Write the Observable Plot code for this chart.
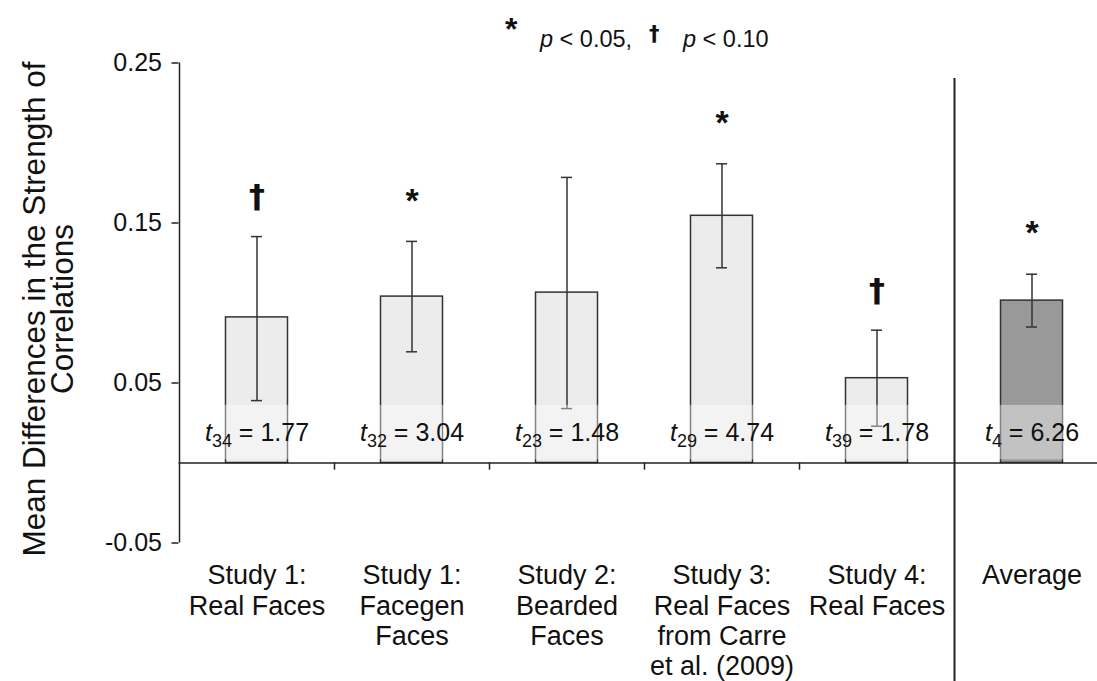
<!DOCTYPE html>
<html><head><meta charset="utf-8">
<script src="https://cdn.jsdelivr.net/npm/d3@7"></script>
<script src="https://cdn.jsdelivr.net/npm/@observablehq/plot@0.6"></script>
<style>
body{margin:0;background:#fff;font-family:"Liberation Sans",Arial,sans-serif;color:#111}
#legend{position:relative;height:55px;width:1097px}
#legend span{position:absolute;white-space:nowrap;line-height:1}
</style></head><body>
<div id="legend">
 <span style="left:505px;top:13px;font-size:32px;font-weight:bold">*</span>
 <span style="left:540px;top:28px;font-size:23.5px"><i>p</i> &lt; 0.05,</span>
 <span style="left:649px;top:24px;font-size:21px;font-weight:bold;font-family:'DejaVu Sans'">†</span>
 <span style="left:683px;top:28px;font-size:23.5px"><i>p</i> &lt; 0.10</span>
</div>
<div id="chart"></div>
<script>
const categories = [
  "Study 1:\nReal Faces",
  "Study 1:\nFacegen\nFaces",
  "Study 2:\nBearded\nFaces",
  "Study 3:\nReal Faces\nfrom Carre\net al. (2009)",
  "Study 4:\nReal Faces",
  "Average"
];
const means  = [0.091, 0.104, 0.1065, 0.1545, 0.053, 0.1015];
const ciLow  = [0.039, 0.0695, 0.034, 0.122, 0.023, 0.085];
const ciHigh = [0.1415, 0.1385, 0.1785, 0.187, 0.083, 0.118];
const dfs     = ["34", "32", "23", "29", "39", "4"];
const tValues = ["1.77", "3.04", "1.48", "4.74", "1.78", "6.26"];
const significance = ["†", "*", "", "*", "†", "*"];
const yTicks = [-0.05, 0.05, 0.15, 0.25];
const yTitle = "Mean Differences in the Strength of\nCorrelations";

const rows = categories.map((c, i) => ({
  category: c, mean: means[i], lo: ciLow[i], hi: ciHigh[i],
  t: `t${dfs[i]} = ${tValues[i]}`, sig: significance[i]
}));

const left = 178.5, band = 155;
const half = band / 2;
const barInset = (band - 62) / 2;
const capInset = (band - 11) / 2;
const ink = "#222";

const chart = Plot.plot({
  width: 1097, height: 626,
  marginLeft: left, marginRight: 0, marginTop: 7.5, marginBottom: 138.5,
  style: {fontFamily: "'Liberation Sans', Arial, sans-serif", color: "#111", background: "#fff", overflow: "visible"},
  color: {type: "identity"},
  x: {domain: categories, range: [left, left + band * categories.length], padding: 0, label: null, axis: null},
  y: {domain: [-0.05, 0.25], label: null, axis: null},
  marks: [
    Plot.barY(rows, {x: "category", y: "mean",
      fill: d => d.category === "Average" ? "#999999" : "#ececec",
      stroke: "#333", strokeWidth: 1.5, insetLeft: barInset, insetRight: barInset}),
    Plot.ruleX(rows, {x: "category", y1: "lo", y2: "hi", stroke: "#333", strokeWidth: 1.5}),
    Plot.tickY(rows, {x: "category", y: "lo", stroke: "#333", strokeWidth: 1.5, insetLeft: capInset, insetRight: capInset}),
    Plot.tickY(rows, {x: "category", y: "hi", stroke: "#333", strokeWidth: 1.5, insetLeft: capInset, insetRight: capInset}),
    Plot.barY(rows, {x: "category", y1: () => 0.002, y2: () => 0.036, fill: "white", fillOpacity: 0.4,
      insetLeft: barInset - 1.5, insetRight: barInset - 1.5}),
    Plot.ruleY([0], {stroke: ink, strokeWidth: 1.5}),
    // y axis line
    Plot.ruleX([categories[0]], {x: d => d, dx: -half, y1: () => -0.05, y2: () => 0.25, stroke: ink, strokeWidth: 1.5}),
    // band separators on zero line
    Plot.ruleX(categories.slice(1, 5), {x: d => d, dx: -half, y1: () => 0, y2: () => -0.0045, stroke: ink, strokeWidth: 1.5}),
    // separator before Average
    Plot.ruleX(["Average"], {x: d => d, dx: -half, y1: () => 0.2403, y2: () => -0.137, stroke: ink, strokeWidth: 2}),
    Plot.axisY(yTicks, {tickSize: 7, tickPadding: 10, tickFormat: d => d.toFixed(2), fontSize: 25, stroke: ink, strokeWidth: 1.5, label: null}),
    Plot.axisX({tickSize: 0, tickPadding: 20, fontSize: 27, lineHeight: 1.12, label: null}),
    Plot.text(rows, {x: "category", y: () => 0.019, text: "t", fontSize: 25, lineAnchor: "middle", fill: "#111"}),
    Plot.text(rows.filter(d => d.sig === "*"), {x: "category", y: d => d.hi + 0.026, text: "sig", fontSize: 34, fontWeight: "bold", lineAnchor: "middle", dy: 1, fill: "#111"}),
    Plot.text(rows.filter(d => d.sig === "†"), {x: "category", y: d => d.hi + 0.026, text: "sig", fontSize: 32, fontWeight: "bold", fontFamily: "DejaVu Sans", lineAnchor: "middle", dy: 2, fill: "#111"}),
    Plot.text([yTitle], {frameAnchor: "left", rotate: -90, dx: -129, dy: 6, fontSize: 31.5, lineHeight: 0.88, lineAnchor: "middle", textAnchor: "middle", fill: "#111"})
  ]
});

// italic t with subscript degrees of freedom
const ns = "http://www.w3.org/2000/svg";
chart.querySelectorAll("text").forEach(el => {
  if (el.querySelector("tspan")) return;
  const m = /^t(\d+) = (.+)$/.exec(el.textContent);
  if (!m) return;
  el.textContent = "";
  const t = document.createElementNS(ns, "tspan");
  t.setAttribute("font-style", "italic"); t.textContent = "t";
  const s = document.createElementNS(ns, "tspan");
  s.setAttribute("font-size", "18"); s.setAttribute("dy", "6"); s.textContent = m[1];
  const r = document.createElementNS(ns, "tspan");
  r.setAttribute("dy", "-6"); r.textContent = " = " + m[2];
  el.append(t, s, r);
});
document.getElementById("chart").append(chart);
</script>
</body></html>
